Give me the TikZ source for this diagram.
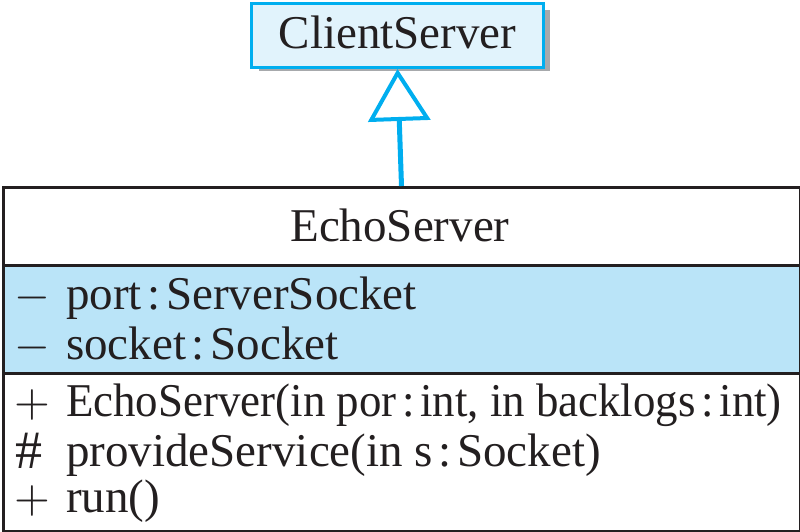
\documentclass[tikz,border=0pt]{standalone}
\usepackage{fontspec}
\usepackage{graphicx}
\setmainfont{Liberation Serif}
\usetikzlibrary{arrows.meta}
\definecolor{umlcyan}{HTML}{00AEEF}
\definecolor{lightfill}{HTML}{E1F3FC}
\definecolor{attrfill}{HTML}{BAE4F8}
\definecolor{inkdark}{HTML}{231F20}
\definecolor{shadowgray}{HTML}{A7A9AC}
\newcommand{\cl}{\hspace{0.12em}:\hspace{0.12em}}
\newcommand{\bigminus}{\scalebox{4.6}{$-$}}
\newcommand{\bigplus}{\scalebox{4.6}{$+$}}
\begin{document}
\begin{tikzpicture}[x=1pt,y=-1pt,
  txt/.style={font=\fontsize{47}{50}\selectfont, text=inkdark, inner sep=0pt},
  sym/.style={text=inkdark, inner sep=0pt},
  region/.style={draw=inkdark, line width=3pt, rectangle, inner sep=0pt, anchor=north west}]
\useasboundingbox (0,0) rectangle (800,532);
% ClientServer box with shadow
\fill[shadowgray] (259,10) rectangle (550,71);
\node[draw=umlcyan, fill=lightfill, line width=3pt, rectangle, inner sep=0pt,
  minimum width=292pt, minimum height=64pt, anchor=north west] (cs) at (250,2) {};
\node[txt, anchor=base] (cstext) at (cs.center |- 0,49) {ClientServer};
% EchoServer class
\node[region, fill=white, minimum width=797pt, minimum height=78pt] (title) at (1.5,186) {};
\node[region, fill=attrfill, minimum width=797pt, minimum height=108pt] (attrs) at (1.5,264) {};
\node[region, fill=white, minimum width=797pt, minimum height=158pt] (meths) at (1.5,372) {};
\node[txt, anchor=base] (titletext) at (400,241) {EchoServer};
% attributes
\node[sym, anchor=base west] (a1s) at (14,309) {\bigminus};
\node[txt, anchor=base west] (a1) at (66,309) {port\cl ServerSocket};
\node[sym, anchor=base west] (a2s) at (14,359) {\bigminus};
\node[txt, anchor=base west] (a2) at (66,359) {socket\cl Socket};
% methods
\node[sym, anchor=base west] (m1s) at (14,416) {\bigplus};
\node[txt, anchor=base west] (m1) at (66,416) {\addfontfeatures{FakeStretch=0.955}EchoServer(in por\cl int, in backlogs\cl int)};
\node[txt, font=\fontsize{54}{56}\selectfont, anchor=base west] (m2s) at (15,468) {\#};
\node[txt, anchor=base west] (m2) at (66,466) {provideService(in s\cl Socket)};
\node[sym, anchor=base west] (m3s) at (14,512) {\bigplus};
\node[txt, anchor=base west] (m3) at (66,512) {run()};
% generalization arrow
\draw[umlcyan, line width=5pt, -{Triangle[open, length=52pt, width=62pt, line width=4pt]}]
  (title.north) -- (cs.south);
\end{tikzpicture}
\end{document}
